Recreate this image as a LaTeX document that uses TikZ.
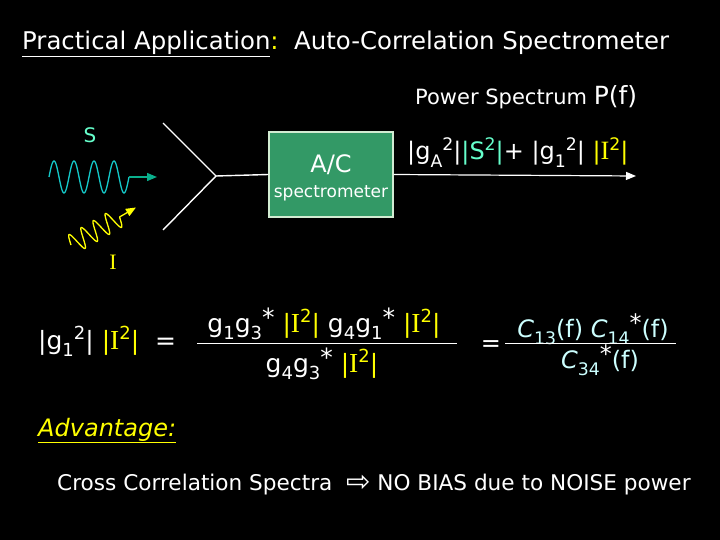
\documentclass[tikz,border=0pt]{standalone}
\usepackage{fontspec}
\setmainfont{DejaVu Sans}
\newfontfamily\serI{Liberation Serif}
\usetikzlibrary{arrows.meta,positioning,calc}
\definecolor{scyan}{RGB}{102,255,204}
\definecolor{wavecyan}{RGB}{20,200,200}
\definecolor{arrowteal}{RGB}{10,175,140}
\definecolor{boxgreen}{RGB}{51,153,102}
\definecolor{boxedge}{RGB}{210,236,210}
\definecolor{yel}{RGB}{255,255,0}
\definecolor{lcyan}{RGB}{204,255,255}
\newcommand\dn[1]{\raisebox{-0.3em}{\scalebox{0.72}{#1}}}
\newcommand\up[1]{\raisebox{0.4em}{\scalebox{0.72}{#1}}}
\newcommand\st{{\color{white}\raisebox{0.22em}{*}}}
\newcommand\absI{{\color{yel}|{\serI\scalebox{1.1}{I}}\up{2}|}}
\newcommand\fs[1]{\fontsize{#1}{#1}\selectfont}
\begin{document}
\begin{tikzpicture}[x=1pt,y=-1pt,>=Stealth,
  txt/.style={text=white, inner sep=0pt, anchor=base west},
  ctxt/.style={text=white, inner sep=0pt, anchor=base},
  wire/.style={white, line width=1.4pt},
  tip/.style={-{Triangle[length=10pt,width=8pt]}}]
  \fill[black] (0,0) rectangle (720,540);
  \node[txt, font=\fs{24.4}] (title) at (22,50)
    {\underline{Practical Application}{\color{yel}:}\ \ Auto-Correlation Spectrometer};
  \node[txt, font=\fs{21}] (pow) at (415,105) {Power Spectrum {\fs{25}P(f)}};
  \node[txt, font=\fs{24}] (pf) at (407,160)
    {|g\dn{A}\up{2}|{\color{scyan}|S\up{2}|}+ |g\dn{1}\up{2}| \absI};
  \node[text=scyan, inner sep=0pt, font=\fs{20}] (slab) at (90,135) {S};
  \node[text=yel, inner sep=0pt, font=\fs{22}\serI] (ilab) at (113,262) {I};
  \draw[wavecyan, line width=1.3pt] plot[domain=0:80, samples=120, smooth]
    ({49+\x},{177-16*sin(18*\x)});
  \coordinate (sEnd) at (129,177);
  \coordinate (sTip) at (157,177);
  \draw[arrowteal, line width=1.3pt, tip] (sEnd) -- (sTip);
  \begin{scope}[shift={(71,245)}, rotate=30]
    \draw[yel, line width=1.3pt] plot[domain=0:56, samples=120, smooth]
      (\x,{-10*sin(25.7*\x)});
    \coordinate (iEnd) at (56,0);
    \coordinate (iTip) at (75,0);
  \end{scope}
  \draw[yel, line width=1.3pt, tip] (iEnd) -- (iTip);
  \coordinate (fkA) at (163,123);
  \coordinate (fkB) at (163,230);
  \coordinate (fk) at (216,176);
  \draw[wire] (fkA) -- (fk) -- (fkB);
  \node[fill=boxgreen, draw=boxedge, line width=1.2pt, minimum width=124pt,
    minimum height=85pt, inner sep=0pt] (ac) at (331,174.5) {};
  \node[ctxt, font=\fs{24}] (acA) at (331,173) {A/C};
  \node[ctxt, font=\fs{17}] (acB) at (331,197) {spectrometer};
  \draw[wire] (fk) -- (ac.west);
  \coordinate (pEnd) at (636,176);
  \draw[wire, line width=1.2pt, tip] (ac.east) -- (pEnd);
  \node[txt, font=\fs{25}] (lhs) at (38,349) {|g\dn{1}\up{2}| \absI\ \ =};
  \node[ctxt, font=\fs{25}] (numA) at (324,332)
    {g\dn{1}g\dn{3}\st\ \absI\ g\dn{4}g\dn{1}\st\ \absI};
  \node[ctxt, font=\fs{25}] (denA) at (322,372) {g\dn{4}g\dn{3}\st\ \absI};
  \draw[white, line width=0.8pt] (197,343) -- (457,343);
  \node[ctxt, font=\fs{24}] (eqB) at (491,351) {=};
  \node[ctxt, text=lcyan, font=\fs{24}] (numB) at (593,337)
    {\textit{C}\dn{13}(f) \textit{C}\dn{14}\st(f)};
  \node[ctxt, text=lcyan, font=\fs{24}] (denB) at (600,368)
    {\textit{C}\dn{34}\st(f)};
  \draw[white, line width=0.8pt] (505,343) -- (676,343);
  \node[txt, text=yel, font=\fs{24}\itshape] (adv) at (38,436) {\underline{Advantage:}};
  \node[txt, font=\fs{21.6}] (cross) at (57,490)
    {Cross Correlation Spectra \ \raisebox{-0.05em}{\scalebox{1.35}{⇨}} NO BIAS due to NOISE power};
\end{tikzpicture}
\end{document}
